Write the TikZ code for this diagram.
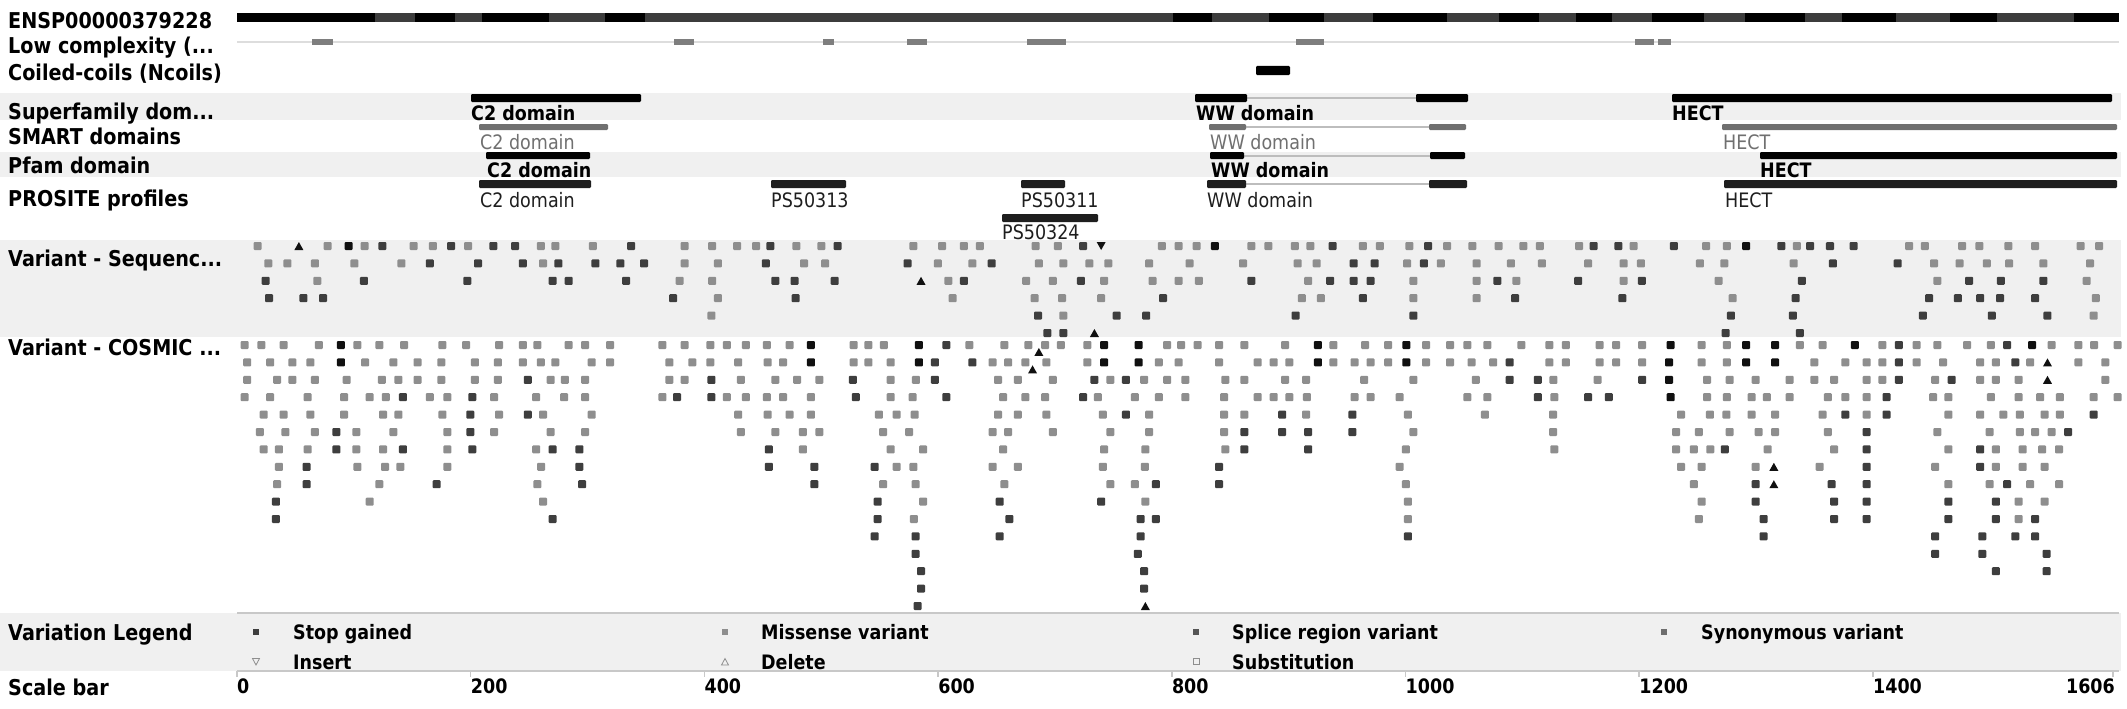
\documentclass[tikz,border=0pt]{standalone}
\usepackage{fontspec}
\setmainfont{DejaVu Sans}[FakeStretch=0.88]
\definecolor{bandgray}{HTML}{F0F0F0}
\definecolor{sepgray}{HTML}{C8C8C8}
\definecolor{exgray}{HTML}{3C3C3C}
\definecolor{lcgray}{HTML}{7E7E7E}
\definecolor{trackgray}{HTML}{DDDDDD}
\definecolor{linkgray}{HTML}{BDBDBD}
\definecolor{smartgray}{HTML}{707070}
\definecolor{prodark}{HTML}{1E1E1E}
\definecolor{cL}{HTML}{8E8E8E}
\definecolor{cD}{HTML}{3E3E3E}
\definecolor{cB}{HTML}{101010}
\definecolor{splgray}{HTML}{555555}
\definecolor{syngray}{HTML}{6E6E6E}
\tikzset{
  lab/.style={anchor=base west, inner sep=0pt, font=\bfseries\fontsize{21.8}{21.8}\selectfont},
  dlab/.style={anchor=base west, inner sep=0pt, font=\bfseries\fontsize{19.9}{19.9}\selectfont},
  dlabr/.style={anchor=base west, inner sep=0pt, font=\fontsize{19.9}{19.9}\selectfont},
  band/.style={fill=bandgray},
  sep/.style={draw=sepgray, line width=2pt},
  dbar/.style={rounded corners=1.2pt},
  link/.style={draw=linkgray, line width=2pt},
  sq/.style={rounded corners=1pt},
  tick/.style={draw=sepgray, line width=1.5pt}
}
\newcommand{\sqrow}[2]{\foreach \px/\cl in {#2}{\fill[sq,fill=c\cl] (\px,#1) ++(-4pt,-4pt) rectangle ++(8pt,8pt);}}
\newcommand{\triup}[2]{\fill[cB] (#1,#2) ++(-4.5pt,-4pt) -- ++(9pt,0pt) -- ++(-4.5pt,8pt) -- cycle;}
\newcommand{\tridn}[2]{\fill[cB] (#1,#2) ++(-4.5pt,4pt) -- ++(9pt,0pt) -- ++(-4.5pt,-8pt) -- cycle;}
\begin{document}
\begin{tikzpicture}[x=1pt,y=-1pt]
\useasboundingbox (0,0) rectangle (2127,709);
\fill[white] (0,0) rectangle (2127,709);
% bands
\fill[band] (0,93) rectangle (2121,120);
\fill[band] (0,152) rectangle (2121,177);
\fill[band] (0,240) rectangle (2121,337);
\fill[band] (0,613) rectangle (2121,671);
\draw[sep] (237,613) -- (2119,613);
\draw[sep] (237,671) -- (2119,671);

% left labels
\node[lab] (tENSP) at (8,28.5) {ENSP00000379228};
\node[lab] (tLow) at (8,54) {Low complexity (...};
\node[lab] (tCoil) at (8,81) {Coiled-coils (Ncoils)};
\node[lab] (tSup) at (8,119) {Superfamily dom...};
\node[lab] (tSmart) at (8,144) {SMART domains};
\node[lab] (tPfam) at (8,173) {Pfam domain};
\node[lab] (tPros) at (8,206) {PROSITE profiles};
\node[lab] (tSeq) at (8,266) {Variant - Sequenc...};
\node[lab] (tCos) at (8,355) {Variant - COSMIC ...};
\node[lab] (tLeg) at (8,640) {Variation Legend};
\node[lab] (tScale) at (8,695.5) {Scale bar};

% protein bar
\fill[exgray] (237,13.5) rectangle (2119,22.5);
\foreach \a/\b in {237/375,415/455,482/549,605/645,1173/1212,1269/1324,1373/1447,1499/1539,1576/1612,1652/1704,1745/1805,1842/1896,1950/1997,2074/2119}
  {\fill[black] (\a,13.5) rectangle (\b,22.5);}

% low complexity
\draw[draw=trackgray, line width=2pt] (237,42) -- (2119,42);
\foreach \a/\b in {312/333,674/694,823/834,907/927,1027/1066,1296/1324,1635/1654,1658/1671}
  {\fill[lcgray] (\a,39) rectangle (\b,45);}

% coiled coils
\fill[dbar,black] (1256,66) rectangle (1290,75);

% Superfamily
\fill[dbar,black] (471,94) rectangle (641,102);
\node[dlab] (sC2) at (471,120.25) {C2 domain};
\draw[link] (1247,98) -- (1416,98);
\fill[dbar,black] (1195,94) rectangle (1247,102);
\fill[dbar,black] (1416,94) rectangle (1468,102);
\node[dlab] (sWW) at (1196,120.25) {WW domain};
\fill[dbar,black] (1672,94) rectangle (2112,102);
\node[dlab] (sHE) at (1672,120.25) {HECT};

% SMART
\fill[dbar,smartgray] (479,124) rectangle (608,130);
\node[dlabr,text=smartgray] (mC2) at (480,149.25) {C2 domain};
\draw[link] (1246,127) -- (1429,127);
\fill[dbar,smartgray] (1209,124) rectangle (1246,130);
\fill[dbar,smartgray] (1429,124) rectangle (1466,130);
\node[dlabr,text=smartgray] (mWW) at (1210,149.25) {WW domain};
\fill[dbar,smartgray] (1722,124) rectangle (2117,130);
\node[dlabr,text=smartgray] (mHE) at (1723,149.25) {HECT};

% Pfam
\fill[dbar,black] (486,152) rectangle (590,159);
\node[dlab] (pC2) at (487,177.25) {C2 domain};
\draw[link] (1244,155.5) -- (1430,155.5);
\fill[dbar,black] (1210,152) rectangle (1244,159);
\fill[dbar,black] (1430,152) rectangle (1465,159);
\node[dlab] (pWW) at (1211,177.25) {WW domain};
\fill[dbar,black] (1760,152) rectangle (2117,159);
\node[dlab] (pHE) at (1760,177.25) {HECT};

% PROSITE
\fill[dbar,prodark] (479,180) rectangle (591,188);
\node[dlabr,text=prodark] (rC2) at (480,207.25) {C2 domain};
\fill[dbar,prodark] (771,180) rectangle (846,188);
\node[dlabr,text=prodark] (r13) at (771,207.25) {PS50313};
\fill[dbar,prodark] (1021,180) rectangle (1065,188);
\node[dlabr,text=prodark] (r11) at (1021,207.25) {PS50311};
\fill[dbar,prodark] (1002,214) rectangle (1098,222);
\node[dlabr,text=prodark] (r24) at (1002,239.25) {PS50324};
\draw[link] (1246,184) -- (1429,184);
\fill[dbar,prodark] (1207,180) rectangle (1246,188);
\fill[dbar,prodark] (1429,180) rectangle (1467,188);
\node[dlabr,text=prodark] (rWW) at (1207,207.25) {WW domain};
\fill[dbar,prodark] (1724,180) rectangle (2117,188);
\node[dlabr,text=prodark] (rHE) at (1725,207.25) {HECT};

% ---------- Variant - Sequence ----------
\begin{scope}[xshift=230pt,yshift=-246pt,x=0.3827pt,y=-17.4pt]
\sqrow{0}{72/L,255/L,310/B,352/L,398/D,480/L,530/L,578/D,622/L,688/D,745/D,812/L,850/L,948/L,1048/D,1188/L,1260/L,1325/L,1375/L,1412/D,1480/L,1545/L}
\triup{180}{0}
\sqrow{1}{100/L,150/L,222/L,325/L,448/L,522/D,648/D,765/D,818/L,858/D,955/D,1020/D,1082/D,1188/L,1275/L,1400/D,1500/L,1555/L}
\sqrow{2}{93/D,228/L,350/D,620/D,843/D,885/D,1035/D,1175/L,1260/L,1425/D,1475/D}
\sqrow{3}{102/D,192/D,243/D,1158/D,1275/L,1478/D}
\sqrow{4}{1258/L}
\end{scope}
\begin{scope}[xshift=820pt,yshift=-246pt,x=0.42088pt,y=-17.4pt]
\sqrow{0}{42/D,222/L,290/L,342/L,380/L,512/L,565/L,625/D,812/L,852/L,895/L,938/B,1025/L,1065/L,1128/L,1165/L,1218/D,1290/L,1330/L,1400/L,1445/D,1490/L,1550/L}
\tridn{668}{0}
\sqrow{1}{208/D,280/L,362/L,408/D,520/L,578/L,640/L,685/L,782/L,878/L,1005/L,1135/L,1180/L,1268/D,1318/D,1395/L,1435/D,1475/L,1560/L}
\sqrow{2}{35/D,305/L,342/D,490/L,553/L,620/D,675/L,790/L,852/L,900/L,1025/D,1160/L,1212/D,1268/D,1308/D,1410/L,1560/L}
\triup{240}{2}
\sqrow{3}{315/L,510/L,575/L,668/L,815/D,1145/L,1190/L,1290/D,1410/L,1560/L}
\sqrow{4}{518/D,578/L,705/D,775/D,1130/D,1410/D}
\sqrow{5}{540/D,578/D}
\triup{652}{5}
\end{scope}
\begin{scope}[xshift=1480pt,yshift=-246pt,x=0.41271pt,y=-17.4pt]
\sqrow{0}{45/L,105/L,145/L,240/L,275/D,335/D,372/L,470/D,548/L,598/L,645/B,730/D,768/L,800/D,848/D,905/D,1040/L,1078/L,1168/L,1210/L,1280/L,1345/L,1455/L,1500/L}
\sqrow{1}{75/L,150/L,262/L,348/L,390/L,533/L,592/L,760/L,855/D,1012/D,1100/L,1162/L,1228/L,1282/L,1365/L,1478/L}
\sqrow{2}{42/D,88/L,238/D,348/L,392/D,578/L,780/D,1108/L,1185/D,1262/D,1365/D,1470/L}
\sqrow{3}{85/D,345/D,612/L,765/D,1088/D,1158/D,1212/D,1260/D,1345/D,1492/L}
\sqrow{4}{608/D,758/D,1073/D,1240/D,1375/D,1487/L}
\sqrow{5}{595/D,775/D}
\end{scope}

% ---------- Variant - COSMIC ----------
\begin{scope}[xshift=230pt,yshift=-345pt,x=0.3827pt,y=-17.4pt]
\sqrow{0}{38/L,82/L,140/L,232/L,290/B,333/L,390/L,455/L,555/L,617/L,703/L,765/L,803/L,885/L,928/L,993/L,1130/L,1188/L,1255/L,1298/L,1348/L,1403/L,1462/L,1518/B}
\sqrow{1}{45/L,105/L,163/L,210/L,290/B,353/L,427/L,490/L,552/L,640/L,700/L,765/L,812/L,850/L,945/L,993/L,1148/L,1208/L,1255/L,1328/L,1405/L,1445/L,1518/B}
\sqrow{2}{45/L,123/L,163/L,222/L,305/L,397/L,440/L,490/L,552/L,640/L,700/L,778/D,838/L,875/L,928/L,1148/L,1188/L,1258/D,1335/L,1425/L,1482/L,1540/L}
\sqrow{3}{38/L,105/L,203/L,298/L,365/L,407/L,452/D,522/L,568/L,633/D,690/L,800/L,873/L,928/L,1130/L,1168/D,1258/D,1298/L,1348/L,1403/L,1445/L,1518/L}
\sqrow{4}{88/L,140/L,210/L,298/L,400/L,440/L,555/L,628/D,703/L,778/D,818/L,945/L,1328/L,1405/L,1462/L,1518/L}
\sqrow{5}{78/L,145/L,222/L,278/D,330/L,427/L,568/L,628/D,690/L,838/L,928/L,1335/L,1425/L,1497/L,1540/L}
\sqrow{6}{88/L,128/L,203/L,278/D,330/L,400/L,452/D,568/L,633/D,800/L,843/D,913/D,1408/D,1497/L}
\sqrow{7}{128/L,200/D,333/L,405/L,445/L,568/L,813/L,913/D,1408/D,1527/D}
\sqrow{8}{123/L,200/D,390/L,540/D,803/L,920/D,1527/D}
\sqrow{9}{120/D,365/L,818/L}
\sqrow{10}{120/D,843/D}
\end{scope}
\begin{scope}[xshift=820pt,yshift=-345pt,x=0.42088pt,y=-17.4pt]
\sqrow{0}{80/L,115/L,152/L,235/B,300/D,355/L,438/L,495/L,535/L,572/L,635/L,675/B,757/B,825/L,858/L,897/L,948/L,1008/L,1105/L,1183/B,1220/L,1295/L,1350/L,1393/B,1440/L,1497/L,1538/L}
\sqrow{1}{80/L,115/L,168/L,235/B,273/D,362/D,410/L,447/L,488/L,538/L,635/L,675/B,757/B,805/L,852/L,948/L,1040/L,1078/L,1115/L,1183/B,1220/L,1270/L,1308/L,1350/L,1393/B,1440/L,1497/L,1548/L}
\triup{520}{0.4}
\triup{505}{1.4}
\sqrow{2}{78/D,168/L,228/L,273/D,423/L,470/L,553/L,652/D,690/L,727/D,770/L,825/L,868/L,963/L,1008/L,1105/L,1155/L,1293/L,1410/L,1558/L}
\sqrow{3}{85/D,168/L,220/L,300/D,435/L,488/L,535/L,625/D,660/L,748/L,805/L,868/L,960/L,1040/L,1078/L,1115/L,1157/L,1270/L,1308/L,1377/L,1538/L}
\sqrow{4}{140/L,182/L,225/L,423/L,470/L,538/L,672/L,727/D,782/L,960/L,1008/L,1098/D,1155/L,1265/D,1397/L}
\sqrow{5}{150/L,212/L,410/L,447/L,553/L,690/L,782/L,960/L,1008/D,1098/D,1160/D,1265/D,1410/L}
\sqrow{6}{168/L,245/L,435/L,675/L,773/L,963/L,1008/D,1160/D,1392/L}
\sqrow{7}{130/D,182/L,222/L,410/L,470/L,672/L,772/L,948/D,1377/L}
\sqrow{8}{150/L,227/L,438/L,690/L,748/L,798/D,948/D,1392/L}
\sqrow{9}{137/D,245/L,427/D,668/D,773/L,1397/L}
\sqrow{10}{137/D,223/L,450/D,762/D,798/D,1397/L}
\sqrow{11}{130/D,227/D,427/D,762/D,1397/D}
\sqrow{12}{227/D,755/D}
\sqrow{13}{240/D,770/D}
\sqrow{14}{240/D,770/D}
\sqrow{15}{232/D}
\triup{773}{15}
\end{scope}
\begin{scope}[xshift=1480pt,yshift=-345pt,x=0.41271pt,y=-17.4pt]
\sqrow{0}{18/L,100/L,168/L,208/L,290/L,330/L,393/L,462/B,537/L,598/L,645/B,715/B,775/L,830/L,908/B,975/L,1015/D,1058/L,1108/L,1180/L,1238/L,1277/D,1338/B,1385/L,1450/L,1488/L,1545/L}
\sqrow{1}{32/L,72/D,168/L,208/L,290/L,330/L,393/L,458/B,537/L,598/L,645/B,715/B,810/L,885/L,937/L,975/L,1015/D,1058/L,1122/L,1212/L,1250/L,1297/D,1333/L,1450/L,1515/L}
\triup{1375}{1}
\sqrow{2}{72/D,140/D,178/L,285/L,393/D,458/B,550/L,605/L,668/L,750/L,810/L,858/L,937/L,975/L,1015/D,1103/L,1143/D,1212/L,1250/L,1305/L,1515/L}
\triup{1375}{2}
\sqrow{3}{18/L,140/D,180/L,262/D,312/D,462/B,550/L,598/L,658/L,695/L,750/L,843/L,885/L,937/L,985/D,1098/L,1135/L,1238/L,1305/L,1357/L,1405/L,1487/L,1545/L}
\sqrow{4}{12/L,177/L,487/L,557/L,597/L,658/L,715/L,830/L,885/D,937/L,985/D,1135/L,1212/L,1268/L,1308/L,1368/L,1405/L,1487/D}
\sqrow{5}{177/L,475/L,530/L,605/L,675/L,715/L,843/L,937/D,1108/L,1235/L,1308/L,1345/L,1385/L,1425/D}
\sqrow{6}{180/L,475/L,518/L,558/L,593/D,697/L,858/L,937/D,1135/L,1212/D,1250/L,1315/L,1362/L,1403/L}
\sqrow{7}{487/L,537/L,668/L,823/L,937/D,1103/L,1212/D,1250/L,1315/L,1368/L}
\triup{712}{7}
\sqrow{8}{518/L,668/D,852/D,937/D,1135/L,1235/L,1277/D,1333/L,1403/L}
\triup{712}{8}
\sqrow{9}{537/L,668/D,858/D,937/D,1135/D,1250/D,1305/L,1368/L}
\sqrow{10}{530/L,687/D,858/D,937/D,1135/D,1250/D,1305/L,1345/D}
\sqrow{11}{687/D,1103/D,1217/D,1297/D,1345/D}
\sqrow{12}{1103/D,1217/D,1373/D}
\sqrow{13}{1250/D,1373/D}
\end{scope}

% ---------- Legend ----------
\fill[cD] (253,629) rectangle (259,635);
\node[dlab] (gStop) at (293,639.25) {Stop gained};
\fill[cL] (722,629) rectangle (728,635);
\node[dlab] (gMis) at (761,639.25) {Missense variant};
\fill[splgray] (1193,629) rectangle (1199,635);
\node[dlab] (gSpl) at (1232,639.25) {Splice region variant};
\fill[syngray] (1661,629) rectangle (1667,635);
\node[dlab] (gSyn) at (1701,639.25) {Synonymous variant};
\draw[cL, line width=0.8pt] (252.5,658.5) -- (259.5,658.5) -- (256,665) -- cycle;
\node[dlab] (gIns) at (293,669.25) {Insert};
\draw[cL, line width=0.8pt] (721.5,665) -- (728.5,665) -- (725,658.5) -- cycle;
\node[dlab] (gDel) at (761,669.25) {Delete};
\draw[cL, line width=0.8pt] (1193,658.5) rectangle (1199,664.5);
\node[dlab] (gSub) at (1232,669.25) {Substitution};

% ---------- Scale bar ----------
\foreach \v in {0,200,400,600,800,1000,1200,1400}{
  \draw[tick] ({237+1.1685*\v},671) -- ({237+1.1685*\v},677);
  \node[dlab] (sc\v) at ({237+1.1685*\v},693.25) {\v};
}
\draw[tick] (2113,671) -- (2113,677);
\node[dlab, anchor=base east] (sc1606) at (2115,693.25) {1606};
\end{tikzpicture}
\end{document}
